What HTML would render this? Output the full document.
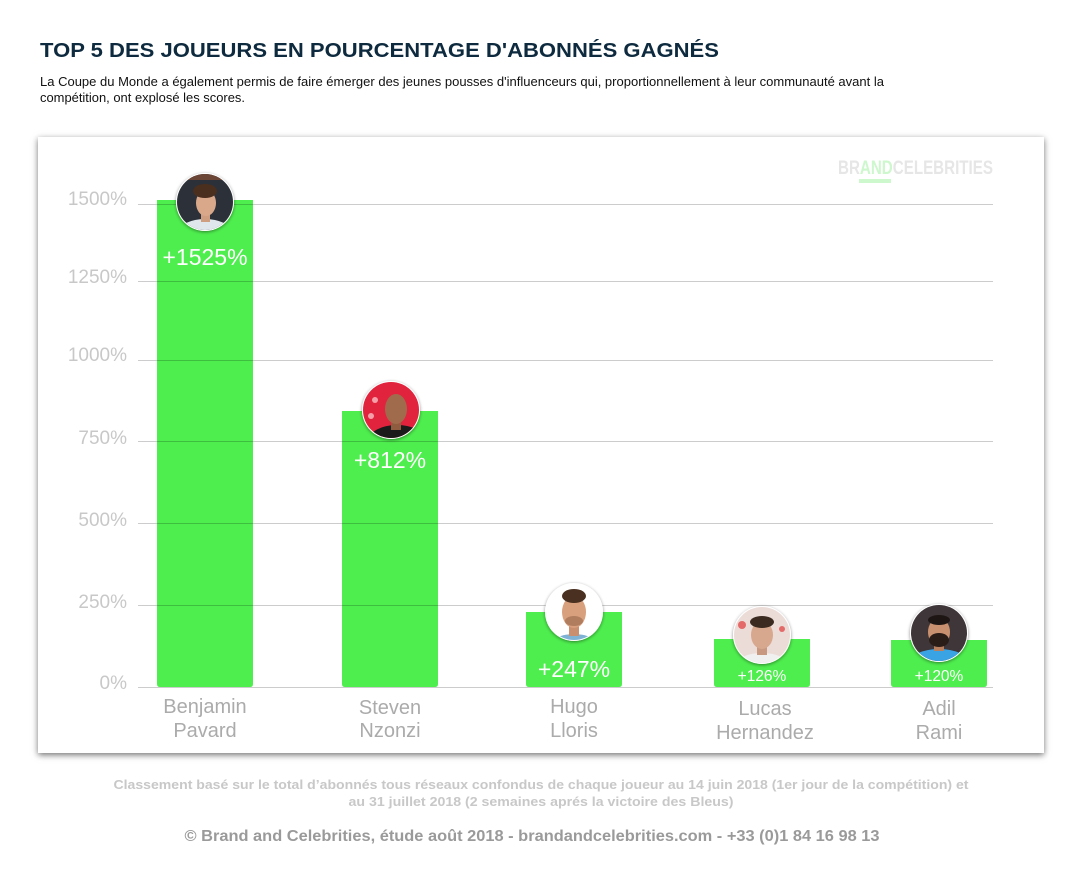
<!DOCTYPE html>
<html>
<head>
<meta charset="utf-8">
<style>
  html,body{margin:0;padding:0;background:#fff;}
  body{width:1081px;height:874px;position:relative;overflow:hidden;font-family:"Liberation Sans",Arial,sans-serif;}
  .frame{position:absolute;left:38px;top:137px;width:1006px;height:616px;background:#fff;box-shadow:0 2px 6px rgba(0,0,0,0.55);}
  svg{position:absolute;left:0;top:0;}
</style>
</head>
<body>
<div class="frame"></div>
<svg width="1081" height="874" viewBox="0 0 1081 874" xmlns="http://www.w3.org/2000/svg" font-family="'Liberation Sans', Arial, sans-serif">
  <defs>
    <clipPath id="cc" clipPathUnits="userSpaceOnUse"><circle cx="0" cy="0" r="28"/></clipPath>
    <filter id="sh" x="-30%" y="-30%" width="160%" height="160%">
      <feDropShadow dx="0" dy="1" stdDeviation="1.5" flood-color="#000" flood-opacity="0.45"/>
    </filter>
  </defs>

  <!-- Title -->
  <text x="40" y="57" font-size="20" font-weight="bold" fill="#0e2a3e" textLength="679" lengthAdjust="spacingAndGlyphs">TOP 5 DES JOUEURS EN <tspan font-weight="bold">POURCENTAGE</tspan> D'ABONNÉS GAGNÉS</text>
  <text x="40" y="86" font-size="12.5" fill="#111" textLength="844" lengthAdjust="spacingAndGlyphs">La Coupe du Monde a également permis de faire émerger des jeunes pousses d'influenceurs qui, proportionnellement à leur communauté avant la</text>
  <text x="40" y="102" font-size="12.5" fill="#111" textLength="205" lengthAdjust="spacingAndGlyphs">compétition, ont explosé les scores.</text>

  <!-- Logo -->
  <text x="838" y="174" font-size="19" font-weight="bold" fill="#e6e6e6" textLength="155" lengthAdjust="spacingAndGlyphs">BR<tspan fill="#cdf7cd">AND</tspan>CELEBRITIES</text>
  <rect x="859" y="179" width="32" height="4" fill="#cdf7cd"/>

  <!-- Bars -->
  <g fill="#4eee4e">
    <path d="M157 200 H253 V684 Q253 687 250 687 H160 Q157 687 157 684 Z"/>
    <path d="M342 411 H438 V684 Q438 687 435 687 H345 Q342 687 342 684 Z"/>
    <path d="M526 612 H622 V684 Q622 687 619 687 H529 Q526 687 526 684 Z"/>
    <path d="M714 639 H810 V684 Q810 687 807 687 H717 Q714 687 714 684 Z"/>
    <path d="M891 640 H987 V684 Q987 687 984 687 H894 Q891 687 891 684 Z"/>
  </g>

  <!-- Gridlines -->
  <g stroke="rgba(0,0,0,0.2)" stroke-width="1">
    <line x1="138" y1="204.5" x2="993" y2="204.5"/>
    <line x1="138" y1="281.5" x2="993" y2="281.5"/>
    <line x1="138" y1="360.5" x2="993" y2="360.5"/>
    <line x1="138" y1="441.5" x2="993" y2="441.5"/>
    <line x1="138" y1="523.5" x2="993" y2="523.5"/>
    <line x1="138" y1="605.5" x2="993" y2="605.5"/>
    <line x1="138" y1="687.5" x2="993" y2="687.5"/>
  </g>

  <!-- Y labels -->
  <g font-size="19" fill="#c8c8c8" text-anchor="end">
    <text x="127" y="205">1500%</text>
    <text x="127" y="283">1250%</text>
    <text x="127" y="361">1000%</text>
    <text x="127" y="444">750%</text>
    <text x="127" y="526">500%</text>
    <text x="127" y="608">250%</text>
    <text x="127" y="689">0%</text>
  </g>

  <!-- Value labels -->
  <g fill="#fff" text-anchor="middle">
    <text x="205" y="265" font-size="23">+1525%</text>
    <text x="390" y="468" font-size="23">+812%</text>
    <text x="574" y="677" font-size="23">+247%</text>
    <text x="762" y="681" font-size="15.5">+126%</text>
    <text x="939" y="681" font-size="15.5">+120%</text>
  </g>

  <!-- X labels -->
  <g font-size="20" fill="#ababab" text-anchor="middle">
    <text x="205" y="713">Benjamin</text><text x="205" y="737">Pavard</text>
    <text x="390" y="714">Steven</text><text x="390" y="737">Nzonzi</text>
    <text x="574" y="713">Hugo</text><text x="574" y="737">Lloris</text>
    <text x="765" y="715">Lucas</text><text x="765" y="739">Hernandez</text>
    <text x="939" y="715">Adil</text><text x="939" y="739">Rami</text>
  </g>

  <!-- Avatars -->
  <!-- Pavard -->
  <g transform="translate(205,202)">
    <circle r="29" fill="#fff" filter="url(#sh)"/>
    <g clip-path="url(#cc)">
      <rect x="-30" y="-30" width="60" height="60" fill="#2c3139"/>
      <rect x="-30" y="-30" width="60" height="8" fill="#6b4636"/>
      <ellipse cx="0" cy="30" rx="26" ry="13" fill="#dfe6ec"/>
      <rect x="-4" y="8" width="9" height="12" fill="#cf9d80"/>
      <ellipse cx="1" cy="1" rx="10" ry="13" fill="#d9a88a"/>
      <ellipse cx="0" cy="-11" rx="12" ry="7" fill="#4a2e1e"/>
    </g>
  </g>
  <!-- Nzonzi -->
  <g transform="translate(391,410)">
    <circle r="29" fill="#fff" filter="url(#sh)"/>
    <g clip-path="url(#cc)">
      <rect x="-30" y="-30" width="60" height="60" fill="#e1233d"/>
      <circle cx="-16" cy="-10" r="3" fill="#f3a0aa"/>
      <circle cx="-20" cy="6" r="3" fill="#f3a0aa"/>
      <ellipse cx="6" cy="30" rx="28" ry="15" fill="#1b1b1b"/>
      <rect x="0" y="8" width="10" height="12" fill="#8f5c40"/>
      <ellipse cx="5" cy="-1" rx="11" ry="15" fill="#a06a4c"/>
    </g>
  </g>
  <!-- Lloris -->
  <g transform="translate(574,612)">
    <circle r="29" fill="#fff" filter="url(#sh)"/>
    <g clip-path="url(#cc)">
      <rect x="-30" y="-30" width="60" height="60" fill="#ffffff"/>
      <ellipse cx="0" cy="32" rx="22" ry="10" fill="#7fb3d5"/>
      <rect x="-5" y="10" width="10" height="14" fill="#c98f6e"/>
      <ellipse cx="0" cy="0" rx="12" ry="16" fill="#d9a07e"/>
      <ellipse cx="0" cy="-16" rx="12" ry="7" fill="#4a3020"/>
      <ellipse cx="0" cy="9" rx="9" ry="5" fill="#8a5a40" opacity="0.5"/>
    </g>
  </g>
  <!-- Hernandez -->
  <g transform="translate(762,635)">
    <circle r="29" fill="#fff" filter="url(#sh)"/>
    <g clip-path="url(#cc)">
      <rect x="-30" y="-30" width="60" height="60" fill="#ecdcd8"/>
      <circle cx="-20" cy="-10" r="4" fill="#e46a6a"/>
      <circle cx="20" cy="-6" r="3" fill="#e46a6a"/>
      <ellipse cx="0" cy="30" rx="26" ry="12" fill="#f0f0f0"/>
      <rect x="-5" y="8" width="10" height="12" fill="#c99880"/>
      <ellipse cx="0" cy="0" rx="11" ry="14" fill="#d8a88e"/>
      <ellipse cx="0" cy="-13" rx="12" ry="6" fill="#3a2a20"/>
    </g>
  </g>
  <!-- Rami -->
  <g transform="translate(939,633)">
    <circle r="29" fill="#fff" filter="url(#sh)"/>
    <g clip-path="url(#cc)">
      <rect x="-30" y="-30" width="60" height="60" fill="#3e3638"/>
      <ellipse cx="0" cy="30" rx="30" ry="14" fill="#3aa3e3"/>
      <rect x="-5" y="8" width="10" height="10" fill="#b98060"/>
      <ellipse cx="0" cy="-1" rx="11" ry="14" fill="#c99070"/>
      <ellipse cx="0" cy="7" rx="10" ry="7" fill="#2a1d18"/>
      <ellipse cx="0" cy="-13" rx="11" ry="5" fill="#1e1614"/>
    </g>
  </g>

  <!-- Footer -->
  <g text-anchor="middle" font-weight="bold">
    <text x="541" y="789" font-size="13" fill="#c8c8c8" textLength="855" lengthAdjust="spacingAndGlyphs">Classement basé sur le total d’abonnés tous réseaux confondus de chaque joueur au 14 juin 2018 (1er jour de la compétition) et</text>
    <text x="541" y="806" font-size="13" fill="#c8c8c8" textLength="385" lengthAdjust="spacingAndGlyphs">au 31 juillet 2018 (2 semaines aprés la victoire des Bleus)</text>
    <text x="532" y="841" font-size="16" fill="#9a9a9a" textLength="695" lengthAdjust="spacingAndGlyphs">© Brand and Celebrities, étude août 2018 - brandandcelebrities.com - +33 (0)1 84 16 98 13</text>
  </g>
</svg>
</body>
</html>
